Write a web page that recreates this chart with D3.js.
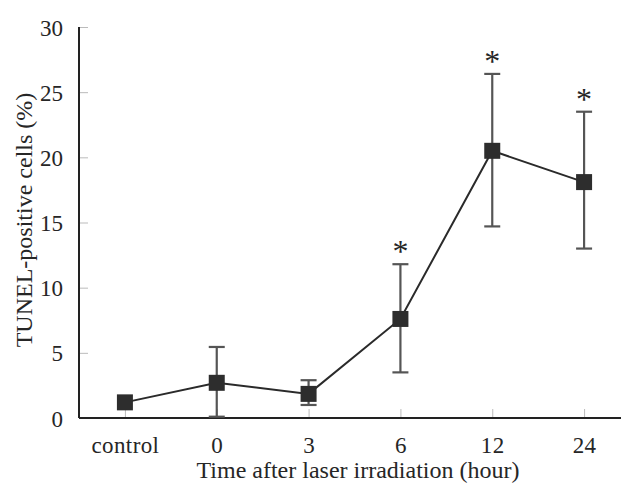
<!DOCTYPE html>
<html>
<head>
<meta charset="utf-8">
<script src="https://cdn.jsdelivr.net/npm/d3@7"></script>
<style>
  body { margin: 0; background: #fff; }
  text { font-family: "Liberation Serif", "Times New Roman", serif; fill: #262626; }
</style>
</head>
<body>
<svg class="chart" width="621" height="488"></svg>
<script>
// data
let groups = ["control", "0", "3", "6", "12", "24"]
let means = [1.2, 2.7, 1.85, 7.6, 20.5, 18.1]
let errUpper = [1.2, 5.45, 2.9, 11.8, 26.4, 23.5]
let errLower = [1.2, 0.1, 1.0, 3.5, 14.7, 13.0]
let significant = [false, false, false, true, true, true]
let yTicks = [0, 5, 10, 15, 20, 25, 30]

let width = 621
let height = 488

const margin = {top: 27, left: 79, right: -9, bottom: 70}

var svg = d3.select(".chart")

let xScale = d3.scalePoint()
    .domain(groups)
    .range([margin.left, width - margin.right])
    .padding(0.5)

let yScale = d3.scaleLinear()
    .domain([0, 30])
    .range([height - margin.bottom, margin.top])

let data = groups.map((g, i) => {
    return {
        group: g,
        mean: means[i],
        hi: errUpper[i],
        lo: errLower[i],
        sig: significant[i]
    }
})

// y axis
let yAxis = svg.append("g")
    .attr("transform", `translate(${margin.left}, 0)`)
    .call(d3.axisRight(yScale).tickValues(yTicks).tickSize(9).tickFormat(""))
yAxis.select(".domain").remove()
yAxis.selectAll("line").attr("stroke", "#bbb").attr("stroke-width", 1)

yAxis.selectAll(".tick").append("text")
    .attr("x", -16)
    .attr("dy", "0.35em")
    .attr("text-anchor", "end")
    .style("font-size", "23px")
    .text(d => d)

// x axis
let xAxis = svg.append("g")
    .attr("transform", `translate(0, ${yScale(0)})`)
    .call(d3.axisTop(xScale).tickSize(9).tickFormat(""))
xAxis.select(".domain").remove()
xAxis.selectAll("line").attr("stroke", "#bbb").attr("stroke-width", 1)

xAxis.selectAll(".tick").append("text")
    .attr("y", 35)
    .attr("text-anchor", "middle")
    .style("font-size", "23px")
    .style("letter-spacing", "0.4px")
    .text(d => d)

// axis lines
svg.append("line")
    .attr("x1", margin.left).attr("x2", margin.left)
    .attr("y1", yScale(30)).attr("y2", yScale(0))
    .attr("stroke", "#222").attr("stroke-width", 2)

svg.append("line")
    .attr("x1", margin.left).attr("x2", width)
    .attr("y1", yScale(0)).attr("y2", yScale(0))
    .attr("stroke", "#222").attr("stroke-width", 2)

// error bars
let bars = svg.append("g")
    .selectAll("g.err")
    .data(data.filter(d => d.hi - d.lo > 0.5))
    .enter()
    .append("g")
    .classed("err", true)
    .attr("stroke", "#555")
    .attr("stroke-width", 2.2)

bars.append("line")
    .attr("x1", d => xScale(d.group)).attr("x2", d => xScale(d.group))
    .attr("y1", d => yScale(d.hi)).attr("y2", d => yScale(d.lo))
bars.append("line")
    .attr("x1", d => xScale(d.group) - 8).attr("x2", d => xScale(d.group) + 8)
    .attr("y1", d => yScale(d.hi)).attr("y2", d => yScale(d.hi))
bars.append("line")
    .attr("x1", d => xScale(d.group) - 8).attr("x2", d => xScale(d.group) + 8)
    .attr("y1", d => yScale(d.lo)).attr("y2", d => yScale(d.lo))

// the line
svg.append("path")
    .datum(data)
    .attr("fill", "none")
    .attr("stroke", "#2a2a2a")
    .attr("stroke-width", 2)
    .attr("d", d3.line().x(d => xScale(d.group)).y(d => yScale(d.mean)))

// the squares
svg.append("g")
    .selectAll("rect.mean")
    .data(data)
    .enter()
    .append("rect")
    .classed("mean", true)
    .attr("x", d => xScale(d.group) - 8)
    .attr("y", d => yScale(d.mean) - 8)
    .attr("width", 16)
    .attr("height", 16)
    .attr("fill", "#2d2d2d")

// asterisks
svg.append("g")
    .selectAll("text.sig")
    .data(data.filter(d => d.sig))
    .enter()
    .append("text")
    .classed("sig", true)
    .attr("x", d => xScale(d.group))
    .attr("y", d => yScale(d.hi) - 2)
    .attr("text-anchor", "middle")
    .style("font-size", "32px")
    .text("*")

// axis titles
svg.append("text")
    .attr("x", 358)
    .attr("y", 478)
    .attr("text-anchor", "middle")
    .style("font-size", "24px")
    .text("Time after laser irradiation (hour)")

svg.append("text")
    .attr("transform", `translate(32, 220) rotate(-90)`)
    .attr("text-anchor", "middle")
    .style("font-size", "24px")
    .text("TUNEL-positive cells (%)")
</script>
</body>
</html>
